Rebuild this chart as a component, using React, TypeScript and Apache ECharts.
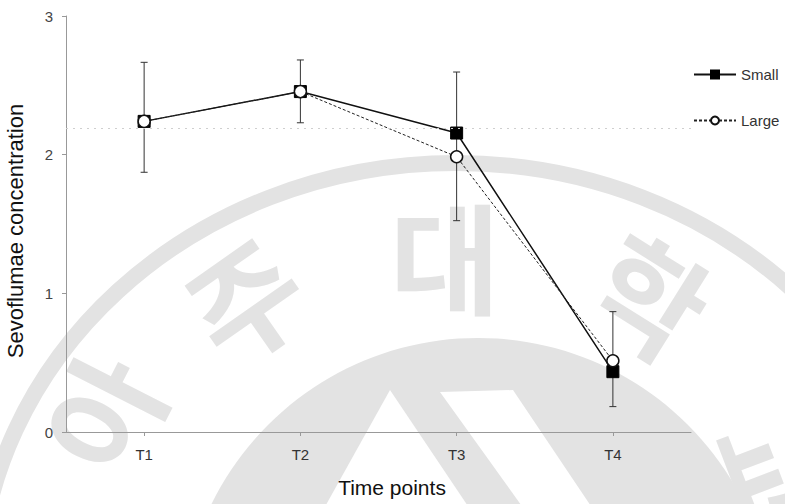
import React, { useEffect, useRef } from "react";
import * as echarts from "echarts";

const categories = ["T1", "T2", "T3", "T4"];
const smallMean = [2.24, 2.455, 2.156, 0.435];
const largeMean = [2.24, 2.455, 1.985, 0.514];
const sdHigh = [2.666, 2.683, 2.596, 0.868];
const sdLow = [1.873, 2.23, 1.524, 0.183];
const refLineValue = 2.185;
const watermarkChars = ["아", "주", "대", "학", "교"];

const FONT = '"Liberation Sans", Arial, Helvetica, sans-serif';
const WM = "#e3e3e3";

export default function App() {
  const ref = useRef<HTMLDivElement>(null);

  useEffect(() => {
    document.body.style.margin = "0";
    if (!ref.current) return;
    const chart = echarts.init(ref.current, undefined, { renderer: "svg" });

    const charPlaces = [
      { x: 100, y: 412, r: 63 },
      { x: 243, y: 297, r: 35 },
      { x: 445, y: 254, r: 0 },
      { x: 652, y: 293, r: -32 },
      { x: 780, y: 470, r: -69 },
    ];

    const watermark: any[] = [
      {
        type: "ellipse",
        z: -10,
        silent: true,
        shape: { cx: 456, cy: 600, rx: 478, ry: 437 },
        style: { fill: "none", stroke: WM, lineWidth: 16 },
      },
      {
        type: "circle",
        z: -10,
        silent: true,
        shape: { cx: 478, cy: 635, r: 297 },
        style: { fill: WM },
      },
      {
        type: "polygon",
        z: -9,
        silent: true,
        shape: { points: [[390, 390], [312, 530], [484, 530]] },
        style: { fill: "#fff" },
      },
      {
        type: "polygon",
        z: -9,
        silent: true,
        shape: { points: [[440, 392], [513, 390], [607, 530], [539, 530]] },
        style: { fill: "#fff" },
      },
      ...watermarkChars.map((ch, i) => ({
        type: "text",
        z: -10,
        silent: true,
        x: charPlaces[i].x,
        y: charPlaces[i].y,
        rotation: (charPlaces[i].r * Math.PI) / 180,
        style: {
          text: ch,
          fill: WM,
          fontSize: 120,
          fontWeight: "bold",
          fontFamily: '"Noto Sans CJK KR", sans-serif',
          align: "center",
          verticalAlign: "middle",
        },
      })),
    ];

    const option: any = {
      animation: false,
      backgroundColor: "#fff",
      textStyle: { fontFamily: FONT },
      graphic: { elements: watermark },
      grid: {
        left: 66,
        right: 94,
        top: 16,
        bottom: 72,
        containLabel: false,
        outerBoundsMode: "none",
      },
      legend: {
        orient: "vertical",
        left: 693,
        top: 67,
        padding: 0,
        itemWidth: 42,
        itemHeight: 10,
        itemGap: 31,
        data: ["Small", "Large"],
        textStyle: { fontSize: 15, color: "#333", fontFamily: FONT },
      },
      xAxis: {
        type: "category",
        data: categories,
        boundaryGap: true,
        name: "Time points",
        nameLocation: "middle",
        nameGap: 45,
        nameTextStyle: {
          fontSize: 21,
          color: "#111",
          fontFamily: FONT,
          padding: [0, 0, 0, 27],
        },
        axisLine: { show: true, lineStyle: { color: "#999", width: 1 } },
        axisTick: { show: true, alignWithLabel: true, length: 4, lineStyle: { color: "#999" } },
        axisLabel: { fontSize: 15, color: "#333", margin: 15, fontFamily: FONT },
        splitLine: { show: false },
      },
      yAxis: {
        type: "value",
        min: 0,
        max: 3,
        interval: 1,
        name: "Sevoflumae concentration",
        nameLocation: "middle",
        nameGap: 40,
        nameRotate: 90,
        nameTextStyle: {
          fontSize: 22,
          color: "#111",
          fontFamily: FONT,
          padding: [0, 14, 0, 0],
        },
        axisLine: { show: true, lineStyle: { color: "#999", width: 1 } },
        axisTick: { show: true, length: 4, lineStyle: { color: "#999" } },
        axisLabel: { fontSize: 15, color: "#444", margin: 13, fontFamily: FONT },
        splitLine: { show: false },
      },
      series: [
        {
          type: "custom",
          name: "SD",
          z: 1,
          silent: true,
          data: categories.map((_, i) => [i, sdLow[i], sdHigh[i]]),
          encode: { x: 0, y: [1, 2] },
          renderItem: (_params: any, api: any) => {
            const idx = api.value(0);
            const lo = api.coord([idx, api.value(1)]);
            const hi = api.coord([idx, api.value(2)]);
            const w = 3.5;
            const st = { stroke: "#333", lineWidth: 1 };
            return {
              type: "group",
              children: [
                { type: "line", shape: { x1: lo[0], y1: lo[1], x2: hi[0], y2: hi[1] }, style: st },
                { type: "line", shape: { x1: lo[0] - w, y1: lo[1], x2: lo[0] + w, y2: lo[1] }, style: st },
                { type: "line", shape: { x1: hi[0] - w, y1: hi[1], x2: hi[0] + w, y2: hi[1] }, style: st },
              ],
            };
          },
        },
        {
          type: "line",
          name: "Small",
          data: smallMean,
          z: 3,
          symbol: "rect",
          symbolSize: 12,
          showAllSymbol: true,
          lineStyle: { color: "#111", width: 1.5, type: "solid" },
          itemStyle: { color: "#000", borderColor: "#000", borderWidth: 1 },
          markLine: {
            silent: true,
            symbol: "none",
            label: { show: false },
            lineStyle: { color: "#cfcfcf", type: [2, 5], width: 1 },
            data: [{ yAxis: refLineValue }],
          },
        },
        {
          type: "line",
          name: "Large",
          data: largeMean,
          z: 4,
          symbol: "circle",
          symbolSize: 12,
          showAllSymbol: true,
          lineStyle: { color: "#222", width: 1, type: [3, 2] },
          itemStyle: { color: "#fff", borderColor: "#111", borderWidth: 1.5 },
        },
      ],
    };

    chart.setOption(option);
    return () => chart.dispose();
  }, []);

  return (
    <div
      ref={ref}
      style={{ position: "absolute", left: 0, top: 0, width: 785, height: 504 }}
    />
  );
}
